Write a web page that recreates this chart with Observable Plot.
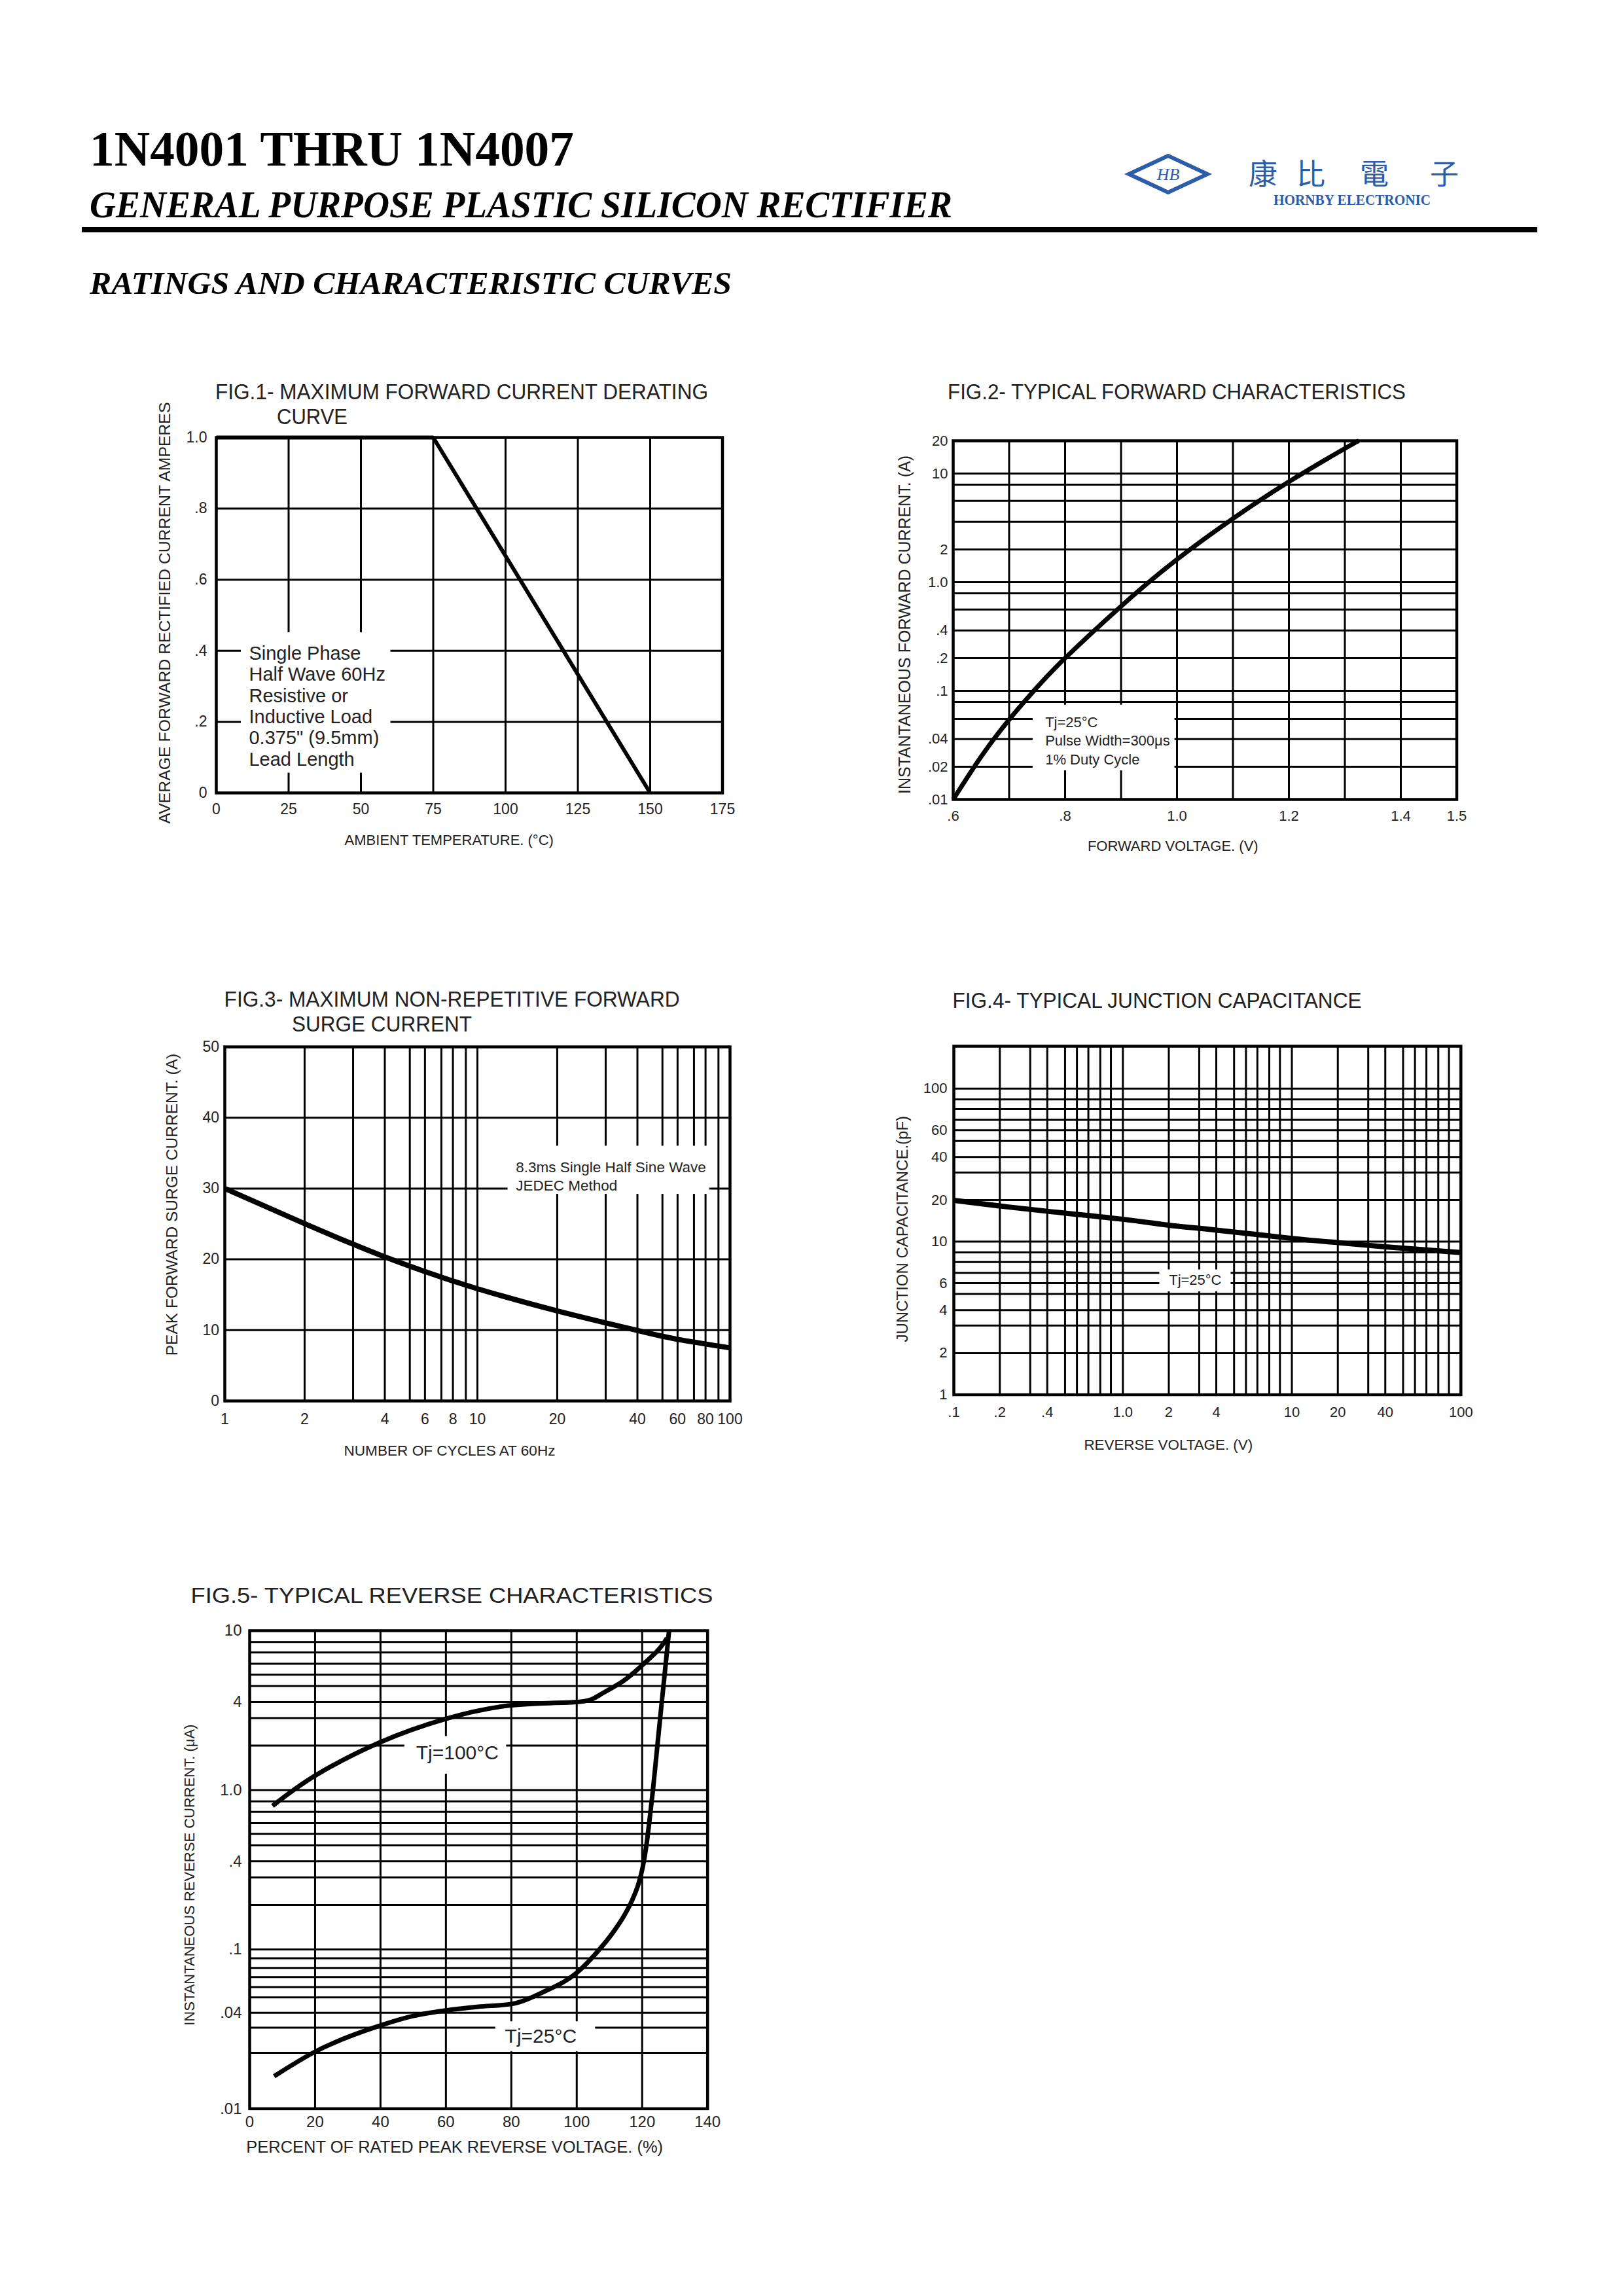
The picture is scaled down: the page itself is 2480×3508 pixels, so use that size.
<!DOCTYPE html>
<html>
<head>
<meta charset="utf-8">
<script src="https://cdn.jsdelivr.net/npm/d3@7"></script>
<script src="https://cdn.jsdelivr.net/npm/@observablehq/plot@0.6"></script>
<style>
html, body { margin: 0; padding: 0; background: #fff; }
#page { position: relative; width: 2480px; height: 3508px; overflow: hidden; background: #fff; }
#page svg { overflow: visible; }
</style>
</head>
<body>
<div id="page"></div>
<script>
// ---------------- Header texts ----------------
const headerTitle = "1N4001 THRU 1N4007";
const headerSubtitle = "GENERAL PURPOSE PLASTIC SILICON RECTIFIER";
const sectionTitle = "RATINGS AND CHARACTERISTIC CURVES";
const logoChars = ["康", "比", "電", "子"];
const logoEnglish = "HORNBY ELECTRONIC";
const logoMark = "HB";

// ---------------- FIG.1 ----------------
const fig1Title = ["FIG.1- MAXIMUM FORWARD CURRENT DERATING", "CURVE"];
const fig1XLabel = "AMBIENT TEMPERATURE. (°C)";
const fig1YLabel = "AVERAGE FORWARD RECTIFIED CURRENT AMPERES";
const fig1Temp = [0, 75, 150];
const fig1Current = [1.0, 1.0, 0];
const fig1XTicks = [0, 25, 50, 75, 100, 125, 150, 175];
const fig1XTickLabels = ["0", "25", "50", "75", "100", "125", "150", "175"];
const fig1YTicks = [0, 0.2, 0.4, 0.6, 0.8, 1.0];
const fig1YTickLabels = ["0", ".2", ".4", ".6", ".8", "1.0"];
const fig1XGrid = [25, 50, 75, 100, 125, 150];
const fig1YGrid = [0.2, 0.4, 0.6, 0.8];
const fig1NoteLines = ["Single Phase", "Half Wave 60Hz", "Resistive or", "Inductive Load", "0.375\" (9.5mm)", "Lead Length"];
const fig1NoteAt = {x: 11.3, y: 0.418};
const fig1NoteBox = {x1: 8.6, x2: 60.3, y1: 0.056, y2: 0.451};

// ---------------- FIG.2 ----------------
const fig2Title = ["FIG.2- TYPICAL FORWARD CHARACTERISTICS"];
const fig2XLabel = "FORWARD VOLTAGE. (V)";
const fig2YLabel = "INSTANTANEOUS FORWARD CURRENT. (A)";
const fig2Volt = [0.6, 0.65, 0.7, 0.75, 0.8, 0.9, 1.0, 1.1, 1.2, 1.3, 1.325];
const fig2Amp = [0.01, 0.0248, 0.0543, 0.108, 0.2, 0.6, 1.62, 3.85, 8.4, 17, 20];
const fig2XTicks = [0.6, 0.8, 1.0, 1.2, 1.4, 1.5];
const fig2XTickLabels = [".6", ".8", "1.0", "1.2", "1.4", "1.5"];
const fig2YTicks = [0.01, 0.02, 0.036, 0.1, 0.2, 0.36, 1, 2, 10, 20];
const fig2YTickLabels = [".01", ".02", ".04", ".1", ".2", ".4", "1.0", "2", "10", "20"];
const fig2XGrid = [0.7, 0.8, 0.9, 1.0, 1.1, 1.2, 1.3, 1.4];
const fig2YGrid = [0.02, 0.036, 0.055, 0.079, 0.1, 0.2, 0.36, 0.56, 0.79, 1, 2, 3.6, 5.6, 7.9, 10];
const fig2NoteLines = ["Tj=25°C", "Pulse Width=300μs", "1% Duty Cycle"];
const fig2NoteAt = {x: 0.7645, y: 0.0615};
const fig2NoteBox = {x1: 0.7426, x2: 0.996, y1: 0.0184, y2: 0.074};

// ---------------- FIG.3 ----------------
const fig3Title = ["FIG.3- MAXIMUM NON-REPETITIVE FORWARD", "SURGE CURRENT"];
const fig3XLabel = "NUMBER OF CYCLES AT 60Hz";
const fig3YLabel = "PEAK FORWARD SURGE CURRENT. (A)";
const fig3Cycles = [1, 2.05, 3.19, 4.26, 6.17, 9.9, 20.8, 43.1, 62, 100];
const fig3Amps = [30, 25.1, 22.2, 20.4, 18.3, 15.9, 12.7, 9.95, 8.7, 7.5];
const fig3XTicks = [1, 2.07, 4.3, 6.2, 8.0, 10, 20.7, 43, 62, 80, 100];
const fig3XTickLabels = ["1", "2", "4", "6", "8", "10", "20", "40", "60", "80", "100"];
const fig3YTicks = [0, 10, 20, 30, 40, 50];
const fig3YTickLabels = ["0", "10", "20", "30", "40", "50"];
const fig3XGrid = [2.07, 3.22, 4.3, 5.4, 6.2, 7.2, 8.0, 9.0, 10, 20.7, 32.2, 43, 54, 62, 72, 80, 90];
const fig3YGrid = [10, 20, 30, 40];
const fig3NoteLines = ["8.3ms Single Half Sine Wave", "JEDEC Method"];
const fig3NoteAt = {x: 14.2, y: 34.1};
const fig3NoteBox = {x1: 13.2, x2: 83, y1: 29.2, y2: 36};

// ---------------- FIG.4 ----------------
const fig4Title = ["FIG.4- TYPICAL JUNCTION CAPACITANCE"];
const fig4XLabel = "REVERSE VOLTAGE. (V)";
const fig4YLabel = "JUNCTION CAPACITANCE.(pF)";
const fig4Volt = [0.1, 0.187, 0.357, 1, 1.87, 3.57, 10, 18.7, 35.7, 100];
const fig4Cap = [18.6, 17.1, 15.8, 14.0, 12.8, 11.9, 10.5, 9.85, 9.25, 8.48];
const fig4XTicks = [0.1, 0.187, 0.357, 1, 1.87, 3.57, 10, 18.7, 35.7, 100];
const fig4XTickLabels = [".1", ".2", ".4", "1.0", "2", "4", "10", "20", "40", "100"];
const fig4YTicks = [1, 1.87, 3.57, 5.35, 10, 18.7, 35.7, 53.5, 100];
const fig4YTickLabels = ["1", "2", "4", "6", "10", "20", "40", "60", "100"];
const fig4XGrid = [0.187, 0.283, 0.357, 0.455, 0.535, 0.625, 0.735, 0.85, 1,
                   1.87, 2.83, 3.57, 4.55, 5.35, 6.25, 7.35, 8.5, 10,
                   18.7, 28.3, 35.7, 45.5, 53.5, 62.5, 73.5, 85];
const fig4YGrid = [1.87, 2.83, 3.57, 4.55, 5.35, 6.25, 7.35, 8.5, 10,
                   18.7, 28.3, 35.7, 45.5, 53.5, 62.5, 73.5, 85, 100];
const fig4NoteLines = ["Tj=25°C"];
const fig4NoteAt = {x: 2.68, y: 5.6};
const fig4NoteBox = {x1: 1.65, x2: 4.36, y1: 4.71, y2: 6.55};

// ---------------- FIG.5 ----------------
const fig5Title = ["FIG.5- TYPICAL REVERSE CHARACTERISTICS"];
const fig5XLabel = "PERCENT OF RATED PEAK REVERSE VOLTAGE. (%)";
const fig5YLabel = "INSTANTANEOUS REVERSE CURRENT. (μA)";
const fig5Pct100 = [7, 20, 40, 60, 80, 100, 107, 114, 120, 125, 127.6];
const fig5Cur100 = [0.795, 1.23, 2.0, 2.8, 3.4, 3.57, 3.95, 4.8, 6.07, 7.6, 9.0];
const fig5Pct25 = [7.5, 20, 40, 50, 60, 70, 80, 90, 100, 106, 111, 114.5, 117, 118.8, 120.2, 121.3, 122.3, 123.3, 124.6, 125.9, 127.1, 128.2];
const fig5Cur25 = [0.016, 0.0228, 0.0333, 0.0382, 0.0414, 0.0437, 0.0454, 0.0543, 0.0713, 0.095, 0.127, 0.163, 0.205, 0.255, 0.33, 0.45, 0.66, 1.0, 1.85, 3.4, 5.9, 9.9];
const fig5XTicks = [0, 20, 40, 60, 80, 100, 120, 140];
const fig5XTickLabels = ["0", "20", "40", "60", "80", "100", "120", "140"];
const fig5YTicks = [0.01, 0.04, 0.1, 0.357, 1, 3.57, 10];
const fig5YTickLabels = [".01", ".04", ".1", ".4", "1.0", "4", "10"];
const fig5XGrid = [20, 40, 60, 80, 100, 120];
const fig5YGrid = [0.0224, 0.0323, 0.04, 0.05, 0.058, 0.067, 0.0765, 0.088, 0.1,
                   0.19, 0.283, 0.357, 0.45, 0.53, 0.62, 0.73, 0.85, 1,
                   1.9, 2.83, 3.57, 4.5, 5.3, 6.2, 7.3, 8.5];
const fig5Notes = [
  {text: "Tj=100°C", x: 63.5, y: 1.70, box: {x1: 47.4, x2: 78.5, y1: 1.26, y2: 2.17}},
  {text: "Tj=25°C", x: 89, y: 0.0283, box: {x1: 75.2, x2: 105.7, y1: 0.0228, y2: 0.0352}}
];

// ---------------- rendering ----------------
const INK = "#000";
const TXT = "#222";
const FONT = "'Liberation Sans', Arial, Helvetica, sans-serif";
const page = document.getElementById("page");

function fmt(ticks, labels) { return d => labels[ticks.indexOf(d)]; }
function pts(xs, ys) { return xs.map((x, i) => ({x, y: ys[i]})); }

function chart(frame, scales, marks) {
  const mL = 140, mR = 40, mT = 20, mB = 110;
  const w = frame.R - frame.L, h = frame.B - frame.T;
  const svg = Plot.plot({
    width: w + mL + mR, height: h + mT + mB,
    marginLeft: mL, marginRight: mR, marginTop: mT, marginBottom: mB,
    style: {fontFamily: FONT, fontSize: "22px", color: TXT, background: "transparent", overflow: "visible"},
    ...scales,
    marks
  });
  const div = document.createElement("div");
  div.style.position = "absolute";
  div.style.left = (frame.L - mL) + "px";
  div.style.top = (frame.T - mT) + "px";
  div.appendChild(svg);
  page.appendChild(div);
}

function axes(o) {
  return [
    Plot.axisX({ticks: o.xt, text: fmt(o.xt, o.xl), tickFormat: fmt(o.xt, o.xl), tickSize: 0, tickPadding: o.xpad, label: null, fontSize: o.tfs, fill: TXT}),
    Plot.axisY({ticks: o.yt, text: fmt(o.yt, o.yl), tickFormat: fmt(o.yt, o.yl), tickSize: 0, tickPadding: o.ypad, label: null, fontSize: o.tfs, fill: TXT}),
    Plot.text([o.xlab], {text: d => d, frameAnchor: "bottom", dx: o.xdx, dy: o.xdy, lineAnchor: "middle", textAnchor: "middle", fontSize: o.xfs, fill: TXT}),
    Plot.text([o.ylab], {text: d => d, frameAnchor: "left", rotate: -90, dx: o.ydx, dy: o.ydy, lineAnchor: "middle", textAnchor: "middle", fontSize: o.yfs, fill: TXT})
  ];
}
const gridX = v => Plot.ruleX(v, {stroke: INK, strokeWidth: 3});
const gridY = v => Plot.ruleY(v, {stroke: INK, strokeWidth: 3});
const box = b => Plot.rect([b], {x1: d => d.x1, x2: d => d.x2, y1: d => d.y1, y2: d => d.y2, fill: "white"});
const frameMark = () => Plot.frame({stroke: INK, strokeWidth: 4.5});

// FIG.1
chart({L: 329.5, R: 1103, T: 668, B: 1211},
  {x: {domain: [0, 175]}, y: {domain: [0, 1]}},
  [
    gridX(fig1XGrid), gridY(fig1YGrid), box(fig1NoteBox),
    Plot.text([fig1NoteAt], {x: "x", y: "y", text: () => fig1NoteLines.join("\n"), textAnchor: "start", lineAnchor: "top", lineHeight: 1.12, fontSize: 29, fill: TXT}),
    Plot.line(pts(fig1Temp, fig1Current), {x: "x", y: "y", stroke: INK, strokeWidth: 6, strokeLinecap: "butt", strokeLinejoin: "miter"}),
    frameMark(),
    ...axes({xt: fig1XTicks, xl: fig1XTickLabels, yt: fig1YTicks, yl: fig1YTickLabels, xpad: 16, ypad: 14, tfs: 23,
      xlab: fig1XLabel, xdx: -31, xdy: 72, xfs: 22, ylab: fig1YLabel, ydx: -78, ydy: -3.5, yfs: 24.8})
  ]);

// FIG.2
chart({L: 1455.5, R: 2225, T: 673, B: 1221},
  {x: {domain: [0.6, 1.5]}, y: {type: "log", domain: [0.01, 20]}},
  [
    gridX(fig2XGrid), gridY(fig2YGrid), box(fig2NoteBox),
    Plot.text([fig2NoteAt], {x: "x", y: "y", text: () => fig2NoteLines.join("\n"), textAnchor: "start", lineAnchor: "top", lineHeight: 1.3, fontSize: 22, fill: TXT}),
    Plot.line(pts(fig2Volt, fig2Amp), {x: "x", y: "y", stroke: INK, strokeWidth: 7, curve: "natural", strokeLinecap: "butt"}),
    frameMark(),
    ...axes({xt: fig2XTicks, xl: fig2XTickLabels, yt: fig2YTicks, yl: fig2YTickLabels, xpad: 17, ypad: 8, tfs: 22,
      xlab: fig2XLabel, xdx: -49, xdy: 71, xfs: 22, ylab: fig2YLabel, ydx: -73.5, ydy: 7, yfs: 25})
  ]);

// FIG.3
chart({L: 342.5, R: 1114.5, T: 1599, B: 2140},
  {x: {type: "log", domain: [1, 100]}, y: {domain: [0, 50]}},
  [
    gridX(fig3XGrid), gridY(fig3YGrid), box(fig3NoteBox),
    Plot.text([fig3NoteAt], {x: "x", y: "y", text: () => fig3NoteLines.join("\n"), textAnchor: "start", lineAnchor: "top", lineHeight: 1.23, fontSize: 22.5, fill: TXT}),
    Plot.line(pts(fig3Cycles, fig3Amps), {x: "x", y: "y", stroke: INK, strokeWidth: 8, curve: "natural", strokeLinecap: "butt"}),
    frameMark(),
    ...axes({xt: fig3XTicks, xl: fig3XTickLabels, yt: fig3YTicks, yl: fig3YTickLabels, xpad: 19, ypad: 8.5, tfs: 23,
      xlab: fig3XLabel, xdx: -42.5, xdy: 76, xfs: 22.6, ylab: fig3YLabel, ydx: -80, ydy: -29.5, yfs: 24.5})
  ]);

// FIG.4
chart({L: 1456.7, R: 2231.5, T: 1597.5, B: 2130},
  {x: {type: "log", domain: [0.1, 100]}, y: {type: "log", domain: [1, 189]}},
  [
    gridX(fig4XGrid), gridY(fig4YGrid), box(fig4NoteBox),
    Plot.text([fig4NoteAt], {x: "x", y: "y", text: () => fig4NoteLines.join("\n"), textAnchor: "middle", lineAnchor: "middle", fontSize: 22, fill: TXT}),
    Plot.line(pts(fig4Volt, fig4Cap), {x: "x", y: "y", stroke: INK, strokeWidth: 8, curve: "natural", strokeLinecap: "butt"}),
    frameMark(),
    ...axes({xt: fig4XTicks, xl: fig4XTickLabels, yt: fig4YTicks, yl: fig4YTickLabels, xpad: 18, ypad: 10, tfs: 22,
      xlab: fig4XLabel, xdx: -59.6, xdy: 76.6, xfs: 22.4, ylab: fig4YLabel, ydx: -78.2, ydy: 13, yfs: 24})
  ]);

// FIG.5
chart({L: 381.3, R: 1081, T: 2490.6, B: 3221},
  {x: {domain: [0, 140]}, y: {type: "log", domain: [0.01, 10]}},
  [
    gridX(fig5XGrid), gridY(fig5YGrid),
    ...fig5Notes.map(n => box(n.box)),
    Plot.text(fig5Notes, {x: "x", y: "y", text: "text", textAnchor: "middle", lineAnchor: "middle", fontSize: 30, fill: TXT}),
    Plot.line(pts(fig5Pct100, fig5Cur100), {x: "x", y: "y", stroke: INK, strokeWidth: 7, curve: "natural", strokeLinecap: "butt"}),
    Plot.line(pts(fig5Pct25, fig5Cur25), {x: "x", y: "y", stroke: INK, strokeWidth: 7, curve: "monotone-x", strokeLinecap: "butt"}),
    frameMark(),
    ...axes({xt: fig5XTicks, xl: fig5XTickLabels, yt: fig5YTicks, yl: fig5YTickLabels, xpad: 11, ypad: 12, tfs: 24,
      xlab: fig5XLabel, xdx: -36.7, xdy: 59, xfs: 25.5, ylab: fig5YLabel, ydx: -91.3, ydy: 8, yfs: 22})
  ]);

// ---------------- overlay: header, logo, figure titles ----------------
const ov = d3.select(page).append("svg")
  .attr("width", 2480).attr("height", 3508)
  .style("position", "absolute").style("left", 0).style("top", 0)
  .style("pointer-events", "none");

function txt(s, x, y, o) {
  const t = ov.append("text").attr("x", x).attr("y", y).text(s)
    .attr("font-family", o.family || FONT).attr("font-size", o.size)
    .attr("fill", o.fill || TXT);
  if (o.weight) t.attr("font-weight", o.weight);
  if (o.style) t.attr("font-style", o.style);
  if (o.len) t.attr("textLength", o.len).attr("lengthAdjust", "spacingAndGlyphs");
  if (o.anchor) t.attr("text-anchor", o.anchor);
  if (o.base) t.attr("dominant-baseline", o.base);
  return t;
}
const SERIF = "'Liberation Serif', 'Times New Roman', serif";
txt(headerTitle, 137, 253, {family: SERIF, size: 76, weight: "bold", fill: "#000", len: 740});
txt(headerSubtitle, 137, 332, {family: SERIF, size: 56, weight: "bold", style: "italic", fill: "#000", len: 1318});
ov.append("rect").attr("x", 125).attr("y", 347).attr("width", 2224).attr("height", 8).attr("fill", "#000");
txt(sectionTitle, 137, 449, {family: SERIF, size: 49, weight: "bold", style: "italic", fill: "#000", len: 981});

// logo
const BLUE = "#2d5ca8";
ov.append("polygon").attr("points", "1725,266 1785,238 1845,266 1785,294")
  .attr("fill", "none").attr("stroke", BLUE).attr("stroke-width", 6);
txt(logoMark, 1785, 266, {family: SERIF, size: 26, style: "italic", fill: BLUE, anchor: "middle", base: "central"});
const logoX = [1930, 2003, 2100, 2207];
logoChars.forEach((c, i) => txt(c, logoX[i], 263, {family: "'Noto Sans CJK TC', 'Noto Sans CJK SC', sans-serif", size: 44, fill: BLUE, anchor: "middle", base: "central"}));
txt(logoEnglish, 1946, 313, {family: SERIF, size: 24, weight: "bold", fill: BLUE, len: 240});

// figure titles
const T = 33;
txt(fig1Title[0], 329, 610, {size: T, len: 753});
txt(fig1Title[1], 423, 648, {size: T, len: 108});
txt(fig2Title[0], 1448, 610, {size: T, len: 700});
txt(fig3Title[0], 342.6, 1538, {size: T, len: 696});
txt(fig3Title[1], 446, 1576, {size: T, len: 275});
txt(fig4Title[0], 1455.5, 1540, {size: T, len: 625});
txt(fig5Title[0], 291.5, 2448.7, {size: T, len: 798});
</script>
</body>
</html>
